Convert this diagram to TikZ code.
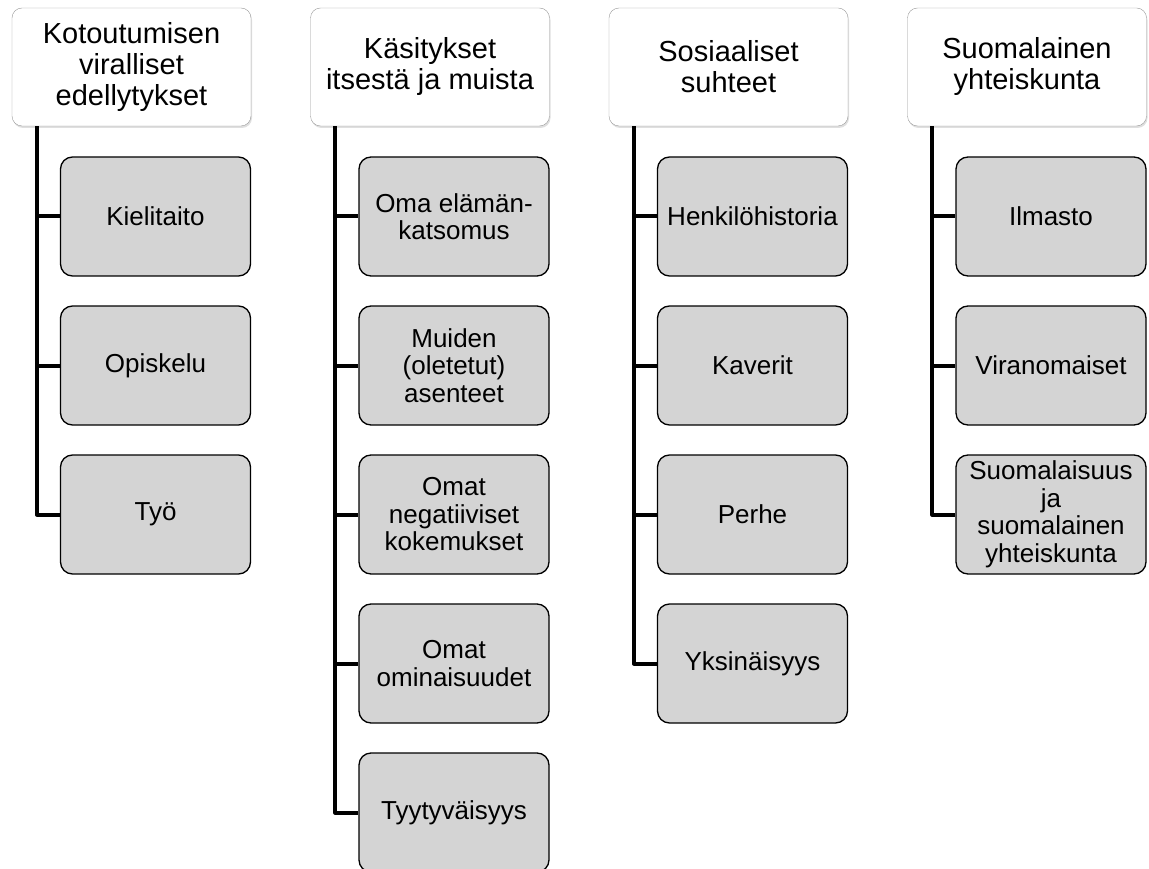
\documentclass[tikz,border=0pt]{standalone}
\usepackage{fontspec}
\setmainfont{Liberation Sans}
\usetikzlibrary{shadows}

\tikzset{
  topbox/.style={draw=black!40, fill=white, rounded corners=10pt,
    minimum width=239pt, minimum height=118pt, inner sep=4pt, align=center,
    font=\fontsize{29pt}{31pt}\selectfont,
    drop shadow={opacity=0.25, shadow xshift=1pt, shadow yshift=-2pt}},
  subbox/.style={draw=black, line width=1.3pt, fill=black!17, rounded corners=12pt,
    minimum width=190pt, minimum height=119pt, inner sep=4pt, align=center,
    font=\fontsize{26pt}{27.5pt}\selectfont},
  link/.style={line width=4pt, line join=round}
}

\begin{document}
\begin{tikzpicture}[x=1pt,y=-1pt]
  \useasboundingbox (0,0) rectangle (1149,869);
  % main headings
  \node[topbox] (kot) at (131.5,67) {Kotoutumisen\\viralliset\\edellytykset};
  \node[topbox] (kas) at (430,67) {Käsitykset\\itsestä ja muista};
  \node[topbox] (sos) at (728.5,67) {Sosiaaliset\\suhteet};
  \node[topbox] (suo) at (1027,67) {Suomalainen\\yhteiskunta};
  % sub topics
  \foreach \grp/\cx/\j/\lab in {kot/131.5/1/Kielitaito, kot/131.5/2/Opiskelu, kot/131.5/3/Työ,
      kas/430/1/{Oma elämän-\\katsomus}, kas/430/2/{Muiden\\(oletetut)\\asenteet},
      kas/430/3/{Omat\\negatiiviset\\kokemukset}, kas/430/4/{Omat\\ominaisuudet},
      kas/430/5/Tyytyväisyys,
      sos/728.5/1/Henkilöhistoria, sos/728.5/2/Kaverit, sos/728.5/3/Perhe, sos/728.5/4/Yksinäisyys,
      suo/1027/1/Ilmasto, suo/1027/2/Viranomaiset,
      suo/1027/3/{Suomalaisuus\\ja\\suomalainen\\yhteiskunta}}{
    \node[subbox] (\grp\j) at (\cx+24,67.5+149*\j) {\lab};
    \draw[link] ([xshift=25pt]\grp.south west) |- (\grp\j.west);
  }
\end{tikzpicture}
\end{document}
